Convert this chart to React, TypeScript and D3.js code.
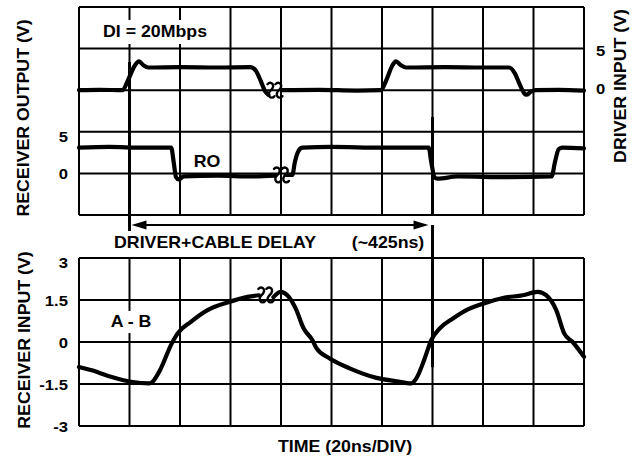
import * as d3 from 'd3'

// time in ns (10 divisions of 20ns, with a break in the middle of each trace)
const timeTicks = [0, 20, 40, 60, 80, 100, 120, 140, 160, 180, 200]

// driver input DI (V) — [t, v], NaN = break
const diTrace: [number, number][] = [
  [0, 0], [8, 0.05], [17.2, 0], [19.5, 1.4], [22, 3.2], [23.8, 3.8], [25.5, 3.3], [27.5, 3.0],
  [40, 3.05], [55, 3.0], [68, 3.05], [70, 2.6], [72, 1.2], [73.8, -0.2], [75, -0.6],
  [76.5, NaN],
  [80.5, 0], [95, 0.05], [110, -0.05], [119.5, 0], [121.8, 1.4], [124, 3.2], [125.5, 3.8],
  [127.5, 3.3], [129.5, 3.0], [145, 3.05], [160, 3.0], [170.3, 3.0], [172.5, 2.3], [174.5, 0.8],
  [176.3, -0.4], [177.2, -0.6], [179, -0.2], [181, 0], [190, 0.05], [200, -0.05],
]

// receiver output RO (V)
const roTrace: [number, number][] = [
  [0, 3.4], [12, 3.5], [25, 3.4], [36.5, 3.4], [37.5, 1.5], [38.4, -0.5], [39.5, -0.8],
  [41.5, -0.4], [55, -0.3], [68, -0.4], [77.5, -0.3],
  [79, NaN],
  [81.8, -0.2], [84.5, -0.2], [85.5, 1.5], [87, 3.0], [88.5, 3.4], [100, 3.5], [120, 3.4],
  [138.5, 3.4], [139.5, 1.5], [140.8, -0.5], [142, -0.7], [150, -0.4], [170, -0.5],
  [187.2, -0.4], [188.5, 1.5], [190, 3.2], [191.5, 3.4], [200, 3.3],
]

// receiver input A - B (V)
const abTrace: [number, number][] = [
  [0, -0.89], [4.7, -1.0], [12.6, -1.24], [20.6, -1.42], [27.8, -1.48], [29.1, -1.42],
  [32.4, -0.95], [36.4, -0.11], [39, 0.3], [44.3, 0.72], [50.9, 1.14], [58.8, 1.41],
  [66.7, 1.61], [71.3, 1.67],
  [74, NaN],
  [77, 1.6], [79.8, 1.79], [82.5, 1.67], [85.8, 1.2], [89, 0.48], [92.4, 0.07], [94.1, -0.23],
  [99.3, -0.59], [107.2, -0.94], [117.8, -1.28], [125.7, -1.4], [131.6, -1.48], [133.6, -1.3],
  [136.9, -0.59], [139.5, 0.07], [142.8, 0.48], [148.1, 0.84], [153.4, 1.14], [160, 1.37],
  [167.9, 1.57], [175.8, 1.67], [181.7, 1.79], [185, 1.67], [189, 1.14], [192.2, 0.3],
  [195.5, 0.0], [200, -0.53],
]

const roTicks = [0, 5]
const diTicks = [0, 5]
const abTicks = [3, 1.5, 0, -1.5, -3]

// break marks (time, level)
const diBreak = [77.6, 0]
const roBreak = [80.2, -0.2]
const abBreak = [74, 1.68]

const delayStart = 20
const delayEnd = 140

const DIV_V = 5.5 // volts per division in the top panel

const FONT = 'Arial, "Liberation Sans", Helvetica, sans-serif'
const SX = 1.11

function Label({ x, y, text, anchor = 'middle', rotate = 0, size = 16 }: {
  x: number; y: number; text: string; anchor?: string; rotate?: number; size?: number
}) {
  return (
    <text
      transform={`translate(${x},${y}) rotate(${rotate}) scale(${SX},1)`}
      textAnchor={anchor}
      fontFamily={FONT}
      fontWeight="bold"
      fontSize={size}
      fill="#000"
    >
      {text}
    </text>
  )
}

// two little S-shaped strokes marking a break in time
function squiggle(cx: number, cy: number) {
  const s = (x: number) =>
    `M${x - 3.5},${cy - 6} C${x},${cy - 10} ${x + 5},${cy - 5} ${x},${cy} C${x - 5},${cy + 5} ${x},${cy + 10} ${x + 3.5},${cy + 6}`
  return s(cx - 4) + ' ' + s(cx + 4)
}

export default function App() {
  const width = 636
  const height = 465

  const x = d3.scaleLinear().domain([0, 200]).range([79, 584])
  const topY0 = 7
  const topY1 = 215
  const diY = d3.scaleLinear().domain([-3 * DIV_V, 2 * DIV_V]).range([topY1, topY0])
  const roY = d3.scaleLinear().domain([-1 * DIV_V, 4 * DIV_V]).range([topY1, topY0])
  const abY = d3.scaleLinear().domain([-3, 3]).range([426, 258])

  const topGrid = d3.range(6).map(i => 2 * DIV_V - i * DIV_V)

  const mkLine = (ys: d3.ScaleLinear<number, number>) =>
    d3.line<[number, number]>()
      .defined(d => !isNaN(d[1]))
      .x(d => x(d[0]))
      .y(d => ys(d[1]))
      .curve(d3.curveMonotoneX)

  const ay = 225

  return (
    <svg
      width={width}
      height={height}
      style={{ position: 'absolute', left: 0, top: 0, background: '#fff' }}
    >
      <rect width={width} height={height} fill="#fff" />

      {/* grids */}
      <g stroke="#000" strokeWidth={2} fill="none">
        {timeTicks.map(t => (
          <line key={'tv' + t} x1={x(t)} x2={x(t)} y1={topY0} y2={topY1} />
        ))}
        {topGrid.map(v => (
          <line key={'th' + v} x1={x(0)} x2={x(200)} y1={diY(v)} y2={diY(v)} />
        ))}
        {timeTicks.map(t => (
          <line key={'bv' + t} x1={x(t)} x2={x(t)} y1={abY(3)} y2={abY(-3)} />
        ))}
        {abTicks.map(v => (
          <line key={'bh' + v} x1={x(0)} x2={x(200)} y1={abY(v)} y2={abY(v)} />
        ))}
      </g>

      {/* label backgrounds */}
      <rect x={98} y={20} width={114} height={24} fill="#fff" />
      <rect x={106} y={311} width={50} height={22} fill="#fff" />

      {/* delay markers */}
      <g stroke="#000" strokeWidth={3}>
        <line x1={x(delayStart)} x2={x(delayStart)} y1={62} y2={231} />
        <line x1={x(delayEnd)} x2={x(delayEnd)} y1={ay} y2={abY(-0.9)} />
        <line x1={x(delayEnd)} x2={x(delayEnd)} y1={topY0 + 110} y2={topY1} />
      </g>
      <line x1={x(delayStart) + 10} x2={x(delayEnd) - 10} y1={ay} y2={ay} stroke="#000" strokeWidth={2} />
      <path
        d={`M${x(delayStart) + 2},${ay} L${x(delayStart) + 17},${ay - 4.5} L${x(delayStart) + 17},${ay + 4.5} Z`}
        fill="#000"
      />
      <path
        d={`M${x(delayEnd) - 4},${ay} L${x(delayEnd) - 19},${ay - 4.5} L${x(delayEnd) - 19},${ay + 4.5} Z`}
        fill="#000"
      />

      {/* traces */}
      <g fill="none" stroke="#000" strokeWidth={4.2} strokeLinejoin="round" strokeLinecap="round">
        <path d={mkLine(diY)(diTrace) || ''} />
        <path d={mkLine(roY)(roTrace) || ''} />
        <path d={mkLine(abY)(abTrace) || ''} />
      </g>

      {/* break marks */}
      <g fill="none" stroke="#000" strokeWidth={2.4} strokeLinecap="round">
        <path d={squiggle(x(diBreak[0]), diY(diBreak[1]))} />
        <path d={squiggle(x(roBreak[0]), roY(roBreak[1]))} />
        <path d={squiggle(x(abBreak[0]), abY(abBreak[1]))} />
      </g>

      {/* tick labels */}
      {roTicks.map(v => (
        <Label key={'ro' + v} x={68} y={roY(v) + 6} text={String(v)} anchor="end" size={15} />
      ))}
      {diTicks.map(v => (
        <Label key={'di' + v} x={596} y={diY(v) + 4} text={String(v)} anchor="start" size={15} />
      ))}
      {abTicks.map(v => (
        <Label key={'ab' + v} x={68} y={Math.max(abY(v) + 6, 268)} text={String(v)} anchor="end" size={15} />
      ))}

      {/* annotations */}
      <Label x={155} y={37} text="DI = 20Mbps" />
      <Label x={207} y={167} text="RO" />
      <Label x={131} y={327} text="A - B" />
      <Label x={215} y={248} text="DRIVER+CABLE DELAY" />
      <Label x={388} y={248} text="(~425ns)" />
      <Label x={345} y={452} text="TIME (20ns/DIV)" />

      {/* axis titles */}
      <Label x={29} y={118} text="RECEIVER OUTPUT (V)" rotate={-90} />
      <Label x={30} y={340} text="RECEIVER INPUT (V)" rotate={-90} />
      <Label x={626} y={86} text="DRIVER INPUT (V)" rotate={-90} />
    </svg>
  )
}
